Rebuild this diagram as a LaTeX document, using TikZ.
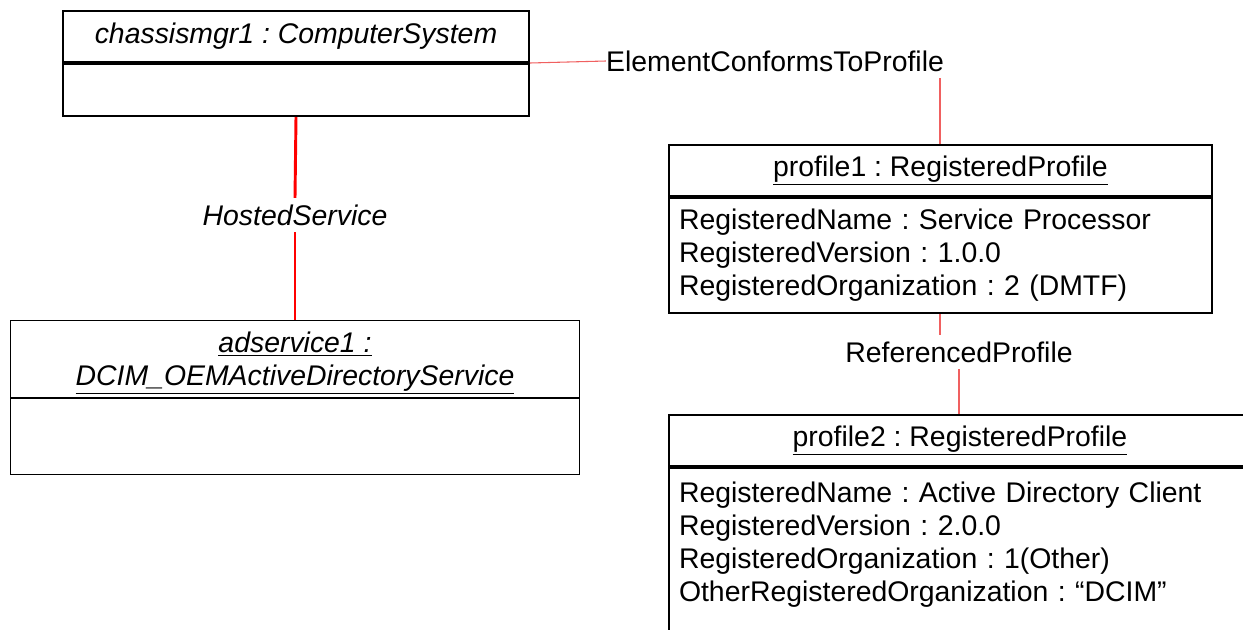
\documentclass[tikz,border=0pt]{standalone}
\usepackage{fontspec}
\setmainfont{Liberation Sans}
\usepackage{tikz}
\usetikzlibrary{positioning}

\definecolor{linkred}{RGB}{240,96,96}
\newcommand{\pxu}{0.75pt}

\tikzset{
  every node/.style={font=\fontsize{21.3}{24.75}\selectfont},
  objbox/.style={draw=black, line width=1.5pt, anchor=north west, inner sep=0pt},
  thinbox/.style={objbox, line width=0.8pt},
  lbl/.style={inner xsep=0pt, inner ysep=6.5*\pxu},
  hosted/.style={draw=red, line width=2.2pt},
  assoc/.style={draw=linkred, line width=0.8pt}
}

\begin{document}
\frenchspacing
\begin{tikzpicture}[x=\pxu, y=-\pxu]
\useasboundingbox (0,0) rectangle (1243,629);
\clip (0,0) rectangle (1243,629);

% computer system
\node[objbox, minimum width=466*\pxu, minimum height=51*\pxu] (cshead) at (62,10) {\itshape chassismgr1 : ComputerSystem};
\node[objbox, minimum width=466*\pxu, minimum height=52*\pxu, below=0pt of cshead] (csbody) {};

% AD service
\node[thinbox, minimum width=569*\pxu, minimum height=77*\pxu, align=center] (adhead) at (10,320)
  {\rule{0pt}{22pt}\itshape\underline{adservice1 :}\\\itshape\underline{DCIM\_OEMActiveDirectoryService}};
\node[thinbox, minimum width=569*\pxu, minimum height=76*\pxu, below=0pt of adhead] (adbody) {};

% profiles
\node[objbox, minimum width=543*\pxu, minimum height=51*\pxu] (p1head) at (668,144) {\underline{profile1 : RegisteredProfile}};
\node[objbox, minimum width=543*\pxu, minimum height=115*\pxu, below=0pt of p1head,
  align=left, text width=523*\pxu, inner xsep=10*\pxu] (p1body)
  {RegisteredName : Service Processor\\
   RegisteredVersion : 1.0.0\\
   RegisteredOrganization : 2 (DMTF)};

\node[objbox, minimum width=582*\pxu, minimum height=51*\pxu] (p2head) at (668,414) {\underline{profile2 : RegisteredProfile}};
\node[objbox, minimum width=582*\pxu, minimum height=180*\pxu, below=0pt of p2head,
  align=left, text width=562*\pxu, inner xsep=10*\pxu] (p2body)
  {RegisteredName : Active Directory Client\\
   RegisteredVersion : 2.0.0\\
   RegisteredOrganization : 1(Other)\\
   OtherRegisteredOrganization : “DCIM”\\
   ~};

% association labels
\node[lbl] (hs) at (295,215) {\itshape HostedService};
\node[lbl] (ecp) at (775,61) {ElementConformsToProfile};
\node[lbl] (rp) at (959,352) {ReferencedProfile};
\coordinate (cx) at (940,0);

% connectors
\draw[hosted] (csbody.south) -- (hs.north);
\draw[hosted] (hs.south) -- (hs.south |- adhead.north);
\draw[assoc] (cshead.south east) -- (ecp.west);
\draw[assoc] (ecp.south -| cx) -- (p1head.north -| cx);
\draw[assoc] (p1body.south -| cx) -- (rp.north -| cx);
\draw[assoc] (rp.south) -- (rp.south |- p2head.north);
\end{tikzpicture}
\end{document}
